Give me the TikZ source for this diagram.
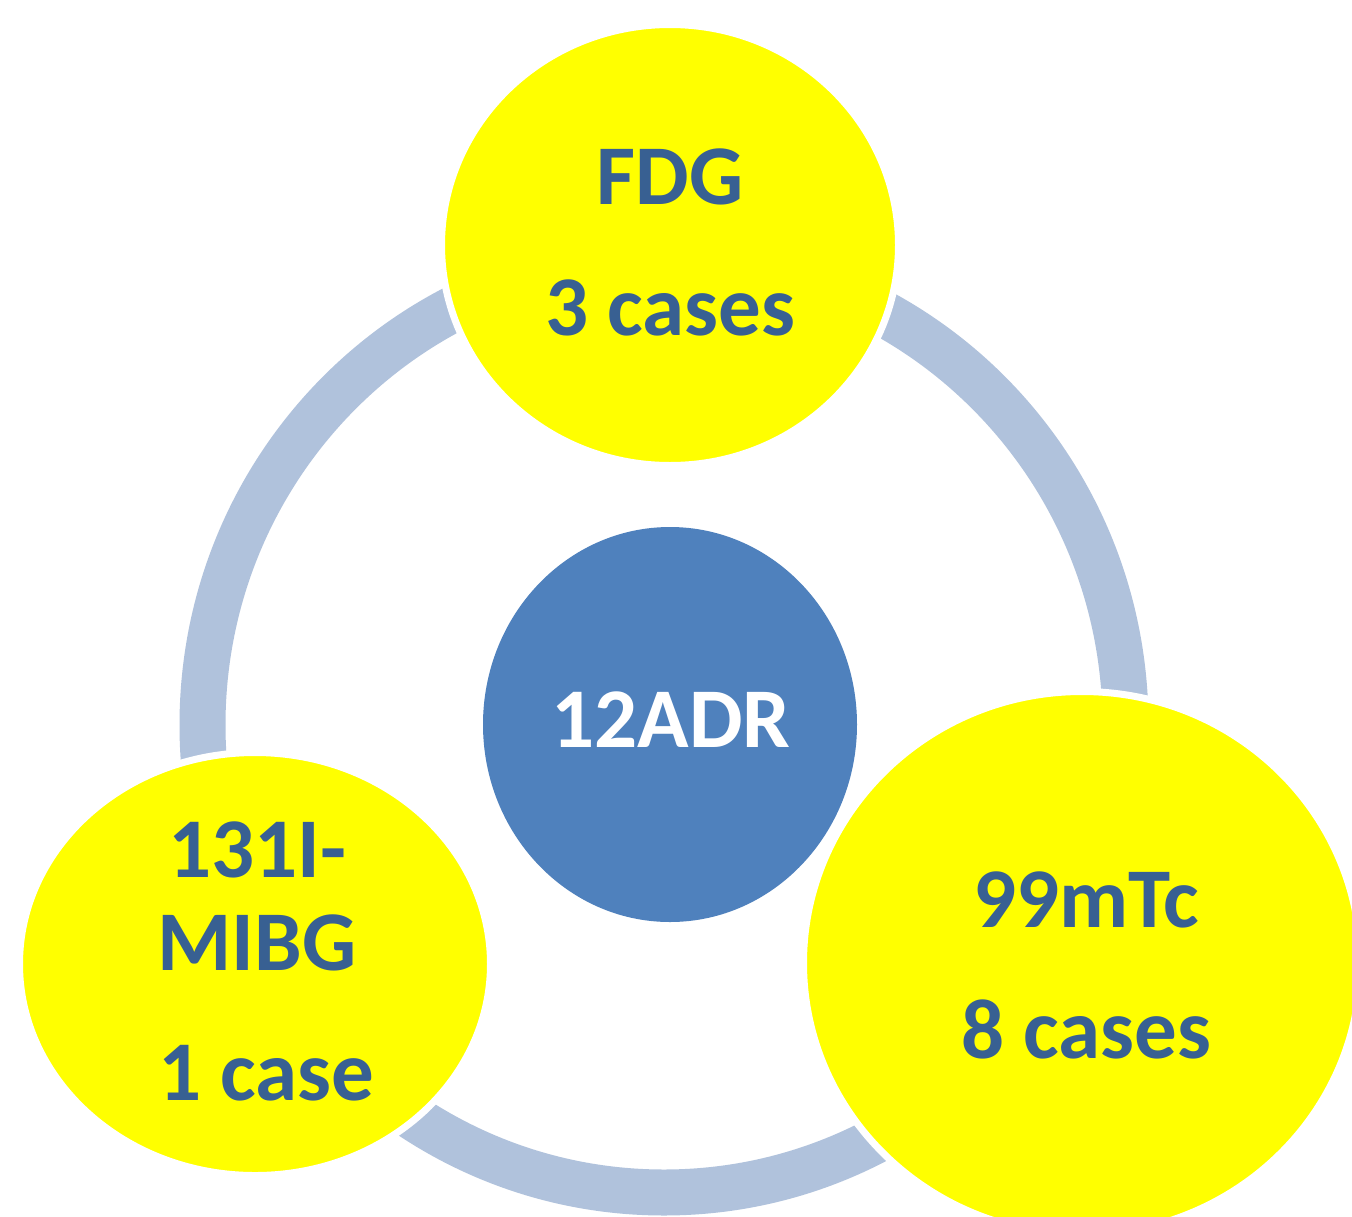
\documentclass[tikz,border=0pt]{standalone}
\usepackage{fontspec}
\setmainfont{Carlito}
\usetikzlibrary{shapes.geometric}
\definecolor{ringcol}{RGB}{176,194,220}
\definecolor{yel}{RGB}{255,255,0}
\definecolor{txtblue}{RGB}{56,96,146}
\definecolor{midblue}{RGB}{79,129,189}
\tikzset{
  ringline/.style={draw=ringcol,line width=46pt},
  yelcirc/.style={ellipse,fill=yel,draw=white,line width=7pt,inner sep=0pt},
  midcirc/.style={ellipse,fill=midblue,inner sep=0pt},
  lbl/.style={text=txtblue,font=\fontsize{85}{93}\selectfont\bfseries,align=center,inner sep=0pt},
  midlbl/.style={text=white,font=\fontsize{85}{93}\selectfont\bfseries,align=center,inner sep=0pt}
}
\begin{document}
\begin{tikzpicture}[x=1pt,y=-1pt]
\useasboundingbox (0,0) rectangle (1352,1216);
\clip (0,0) rectangle (1352,1216);
\fill[white] (0,0) rectangle (1352,1216);
\coordinate (ringc) at (664,725);
\draw[ringline] (ringc) ellipse [x radius=461.5pt, y radius=467.5pt];
\node[midcirc,minimum width=374pt,minimum height=395pt] (adr) at (670,724.5) {};
\node[yelcirc,minimum width=457pt,minimum height=441pt] (fdg) at (670,245) {};
\node[yelcirc,minimum width=471pt,minimum height=423pt] (mibg) at (255,964) {};
\node[yelcirc,minimum width=557pt,minimum height=543pt] (tc) at (1082,963) {};
\node[midlbl] (adrtxt) at (671,720) {12ADR};
\node[lbl] (fdgtxt) at (670,242) {FDG\\[38pt]3 cases};
\node[lbl] (mibgtxt) at (257,961) {131I-\\MIBG\\[37pt]\hspace*{19pt}1 case};
\node[lbl] (tctxt) at (1086,965) {99mTc\\[38pt]8 cases};
\end{tikzpicture}
\end{document}
